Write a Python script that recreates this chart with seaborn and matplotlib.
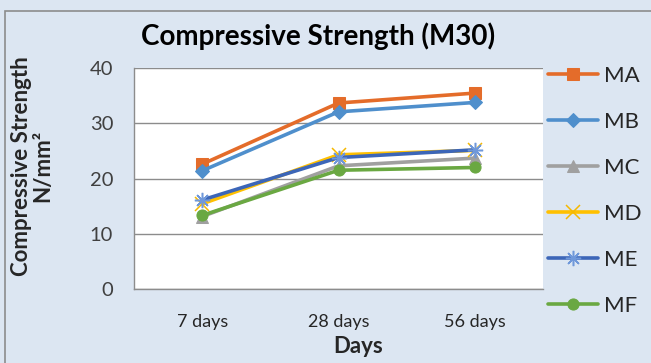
import matplotlib
matplotlib.use("Agg")
import matplotlib.pyplot as plt
import seaborn as sns
import pandas as pd
from matplotlib.patches import Rectangle

# Compressive strength (N/mm²) of M30 mixes at each curing age
ages = ["7 days", "28 days", "56 days"]
MA = [22.6, 33.7, 35.5]
MB = [21.4, 32.1, 33.8]
MC = [13.1, 22.3, 23.7]
MD = [15.4, 24.3, 25.1]
ME = [16.1, 23.8, 25.2]
MF = [13.3, 21.5, 22.0]
mixes = ["MA", "MB", "MC", "MD", "ME", "MF"]
yticks = [0, 10, 20, 30, 40]

series = {"MA": MA, "MB": MB, "MC": MC, "MD": MD, "ME": ME, "MF": MF}
rows = []
for mix in mixes:
    for age, val in zip(ages, series[mix]):
        rows.append({"Mix": mix, "Age": age, "Strength": val})
df = pd.DataFrame(rows)

palette = {"MA": "#E46C2A", "MB": "#4F8FCC", "MC": "#A0A0A0",
           "MD": "#FFC000", "ME": "#3C66B8", "MF": "#6AA842"}
markers = {"MA": "s", "MB": "D", "MC": "^", "MD": "x", "ME": (8, 2, 0), "MF": "o"}
msizes = {"MA": 8, "MB": 7, "MC": 8, "MD": 10, "ME": 11, "MF": 8}
medge = {"MD": "#F5B800", "ME": "#6F98DA"}

sns.set_style("white")
plt.rcParams["font.family"] = ["Lato", "DejaVu Sans"]

bg = "#DCE6F2"
fig = plt.figure(figsize=(6.51, 3.63), dpi=100, facecolor=bg)
fig.patches.append(Rectangle((5 / 651, -0.05), 1.1, 1 - 11 / 363 + 0.05,
                             transform=fig.transFigure, fill=False,
                             edgecolor="#8C8C8C", linewidth=1.2))
ax = fig.add_axes([134 / 651, 1 - 288.7 / 363, (543 - 134) / 651, (288.7 - 68.3) / 363])
ax.set_facecolor("white")

x_of = {a: i for i, a in enumerate(ages)}
df["x"] = df["Age"].map(x_of)

for mix in mixes:
    sub = df[df["Mix"] == mix]
    if mix in medge:
        kw = dict(markeredgewidth=1.1, markeredgecolor=medge[mix])
    else:
        kw = dict(markeredgecolor=palette[mix])
    sns.lineplot(data=sub, x="x", y="Strength", ax=ax, color=palette[mix],
                 linewidth=2.6, marker=markers[mix], markersize=msizes[mix],
                 label=mix, **kw)

ax.set_xlim(-0.5, 2.5)
ax.set_ylim(0, 40)
ax.set_yticks(yticks)
ax.set_xticks([-0.5, 0.5, 1.5, 2.5], minor=False)
ax.set_xticklabels([])
ax.set_xticks([0, 1, 2], minor=True)
ax.set_xticklabels(ages, minor=True)
ax.tick_params(axis="x", which="major", length=7, width=1, color="#8C8C8C", direction="out")
ax.tick_params(axis="x", which="minor", length=0, labelsize=13, pad=18, labelcolor="#262626")
ax.tick_params(axis="y", length=7, width=1, color="#8C8C8C", direction="out",
               labelsize=14.5, pad=8, labelcolor="#404040")
ax.yaxis.grid(True, color="#8C8C8C", linewidth=1)
ax.set_axisbelow(True)
for side in ("top", "right"):
    ax.spines[side].set_visible(False)
for side in ("left", "bottom"):
    ax.spines[side].set_color("#8C8C8C")
    ax.spines[side].set_linewidth(1)

ax.set_xlabel("Days", fontsize=16, fontweight="bold")
ax.xaxis.set_label_coords(0.548, -0.215)
ax.set_ylabel("Compressive Strength\nN/mm²", fontsize=16, fontweight="bold",
              linespacing=1.0)
ax.yaxis.set_label_coords(-0.198, 0.555)
fig.text(318 / 651, 1 - 36 / 363, "Compressive Strength (M30)", ha="center", va="center",
         fontsize=20, fontweight="bold", color="black")

leg = ax.legend(loc="upper left", bbox_to_anchor=(548 / 651, 1 - 65.5 / 363),
                bbox_transform=fig.transFigure, frameon=False, fontsize=16,
                labelspacing=1.17, handlelength=2.25, handletextpad=0.25,
                borderaxespad=0, borderpad=0)

fig.savefig("out.png", dpi=100, facecolor=bg)
